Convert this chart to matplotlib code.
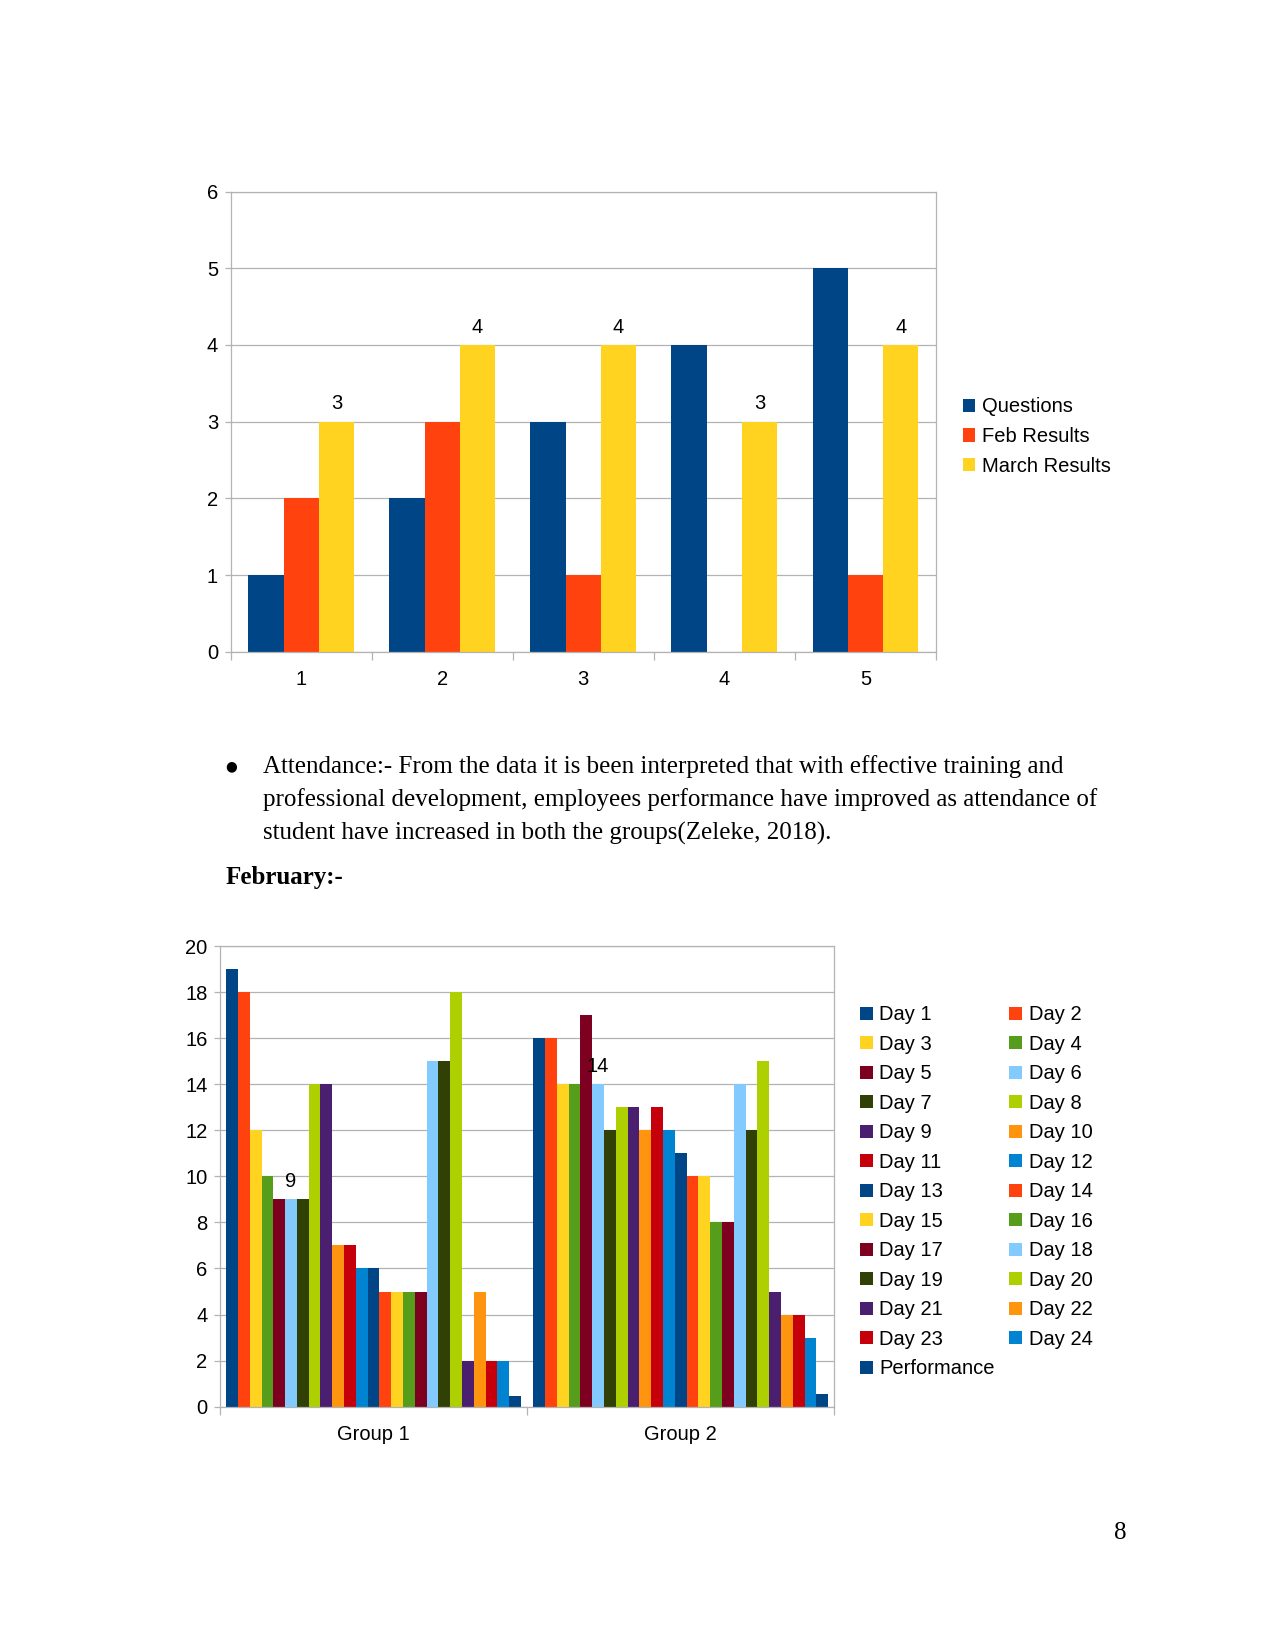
import matplotlib
matplotlib.use("Agg")
import matplotlib.pyplot as plt
import numpy as np

# ---------------- data ----------------
top_categories = ["1", "2", "3", "4", "5"]
questions = [1, 2, 3, 4, 5]
feb_results = [2, 3, 1, 0, 1]
march_results = [3, 4, 4, 3, 4]
top_series_names = ["Questions", "Feb Results", "March Results"]

groups = ["Group 1", "Group 2"]
day_names = [f"Day {i}" for i in range(1, 25)] + ["Performance"]
group1_values = [19, 18, 12, 10, 9, 9, 9, 14, 14, 7, 7, 6, 6, 5, 5, 5, 5, 15, 15, 18, 2, 5, 2, 2, 0.45]
group2_values = [16, 16, 14, 14, 17, 14, 12, 13, 13, 12, 13, 12, 11, 10, 10, 8, 8, 14, 12, 15, 5, 4, 4, 3, 0.55]

body_lines = [
    "Attendance:- From the data it is been interpreted that with effective training and",
    "professional development, employees performance have improved as attendance of",
    "student have increased in both the groups(Zeleke, 2018).",
]
heading = "February:-"
page_number = "8"

# ---------------- style ----------------
palette = ["#004586", "#ff420e", "#ffd320", "#579d1c", "#7e0021", "#83caff",
           "#314004", "#aecf00", "#4b1f6f", "#ff950e", "#c5000b", "#0084d1"]
grid_c = "#b3b3b3"
SANS = ["Liberation Sans", "DejaVu Sans"]
SERIF = ["Liberation Serif", "DejaVu Serif"]
FS = 9.7

W, H = 1275, 1651
fig = plt.figure(figsize=(W / 150, H / 150), dpi=150)

def style_axes(ax):
    ax.set_axisbelow(True)
    ax.yaxis.grid(True, color=grid_c, linewidth=0.6)
    for s in ax.spines.values():
        s.set_color(grid_c)
        s.set_linewidth(0.6)
    ax.tick_params(axis="y", which="major", length=3, width=0.6, color=grid_c,
                   pad=3, labelsize=FS, labelcolor="black")
    for lab in ax.get_yticklabels():
        lab.set_fontfamily(SANS)

legend_kw = dict(loc="upper left", frameon=False, borderpad=0, borderaxespad=0,
                 handlelength=0.63, handleheight=0.63, handletextpad=0.33,
                 labelspacing=0.52, prop={"family": SANS, "size": FS})

# ---------------- top chart ----------------
ax1 = fig.add_axes([230.6 / W, 1 - 651.7 / H, (936 - 230.6) / W, (651.7 - 191.6) / H])
x = np.arange(len(top_categories))
bw = 0.25
b_q = ax1.bar(x - bw, questions, bw, color=palette[0], label=top_series_names[0])
b_f = ax1.bar(x, feb_results, bw, color=palette[1], label=top_series_names[1])
b_m = ax1.bar(x + bw, march_results, bw, color=palette[2], label=top_series_names[2])
ax1.bar_label(b_m, labels=[str(v) for v in march_results], padding=4,
              fontsize=FS, fontfamily=SANS)
ax1.set_xlim(-0.5, len(top_categories) - 0.5)
ax1.set_ylim(0, 6)
ax1.set_yticks(range(0, 7))
ax1.set_xticks(np.arange(-0.5, len(top_categories), 1.0))
ax1.set_xticklabels([])
ax1.tick_params(axis="x", which="major", length=4, width=0.6, color=grid_c)
ax1.set_xticks(x, minor=True)
ax1.set_xticklabels(top_categories, minor=True, fontsize=FS, fontfamily=SANS)
ax1.tick_params(axis="x", which="minor", length=0, pad=9)
style_axes(ax1)

fig.legend(handles=[b_q, b_f, b_m], labels=top_series_names,
           bbox_to_anchor=(962.7 / W, 1 - 397.5 / H), **legend_kw)

# ---------------- text ----------------
fig.text(230.7 / W, 1 - 766 / H, "●", fontsize=6.5, fontfamily=["DejaVu Sans"],
         ha="center", va="center")
for i, line in enumerate(body_lines):
    fig.text(263.3 / W, 1 - (773.3 + 33 * i) / H, line, fontsize=12,
             fontfamily=SERIF, ha="left", va="baseline")
fig.text(226 / W, 1 - 884.3 / H, heading, fontsize=12, fontfamily=SERIF,
         fontweight="bold", ha="left", va="baseline")
fig.text(1120.7 / W, 1 - 1539 / H, page_number, fontsize=12, fontfamily=SERIF,
         ha="center", va="baseline")

# ---------------- bottom chart ----------------
ax2 = fig.add_axes([220 / W, 1 - 1406.7 / H, 614.3 / W, (1406.7 - 946) / H])
n = len(day_names)
gx = np.arange(len(groups))
w2 = 0.96 / n
handles = []
for i, name in enumerate(day_names):
    vals = [group1_values[i], group2_values[i]]
    b = ax2.bar(gx + (i - (n - 1) / 2) * w2, vals, w2,
                color=palette[i % len(palette)], label=name)
    handles.append(b)
    if name == "Day 6":
        ax2.bar_label(b, labels=[str(v) for v in vals], padding=4,
                      fontsize=FS, fontfamily=SANS)
ax2.set_xlim(-0.5, len(groups) - 0.5)
ax2.set_ylim(0, 20)
ax2.set_yticks(range(0, 21, 2))
ax2.set_xticks(np.arange(-0.5, len(groups), 1.0))
ax2.set_xticklabels([])
ax2.tick_params(axis="x", which="major", length=4, width=0.6, color=grid_c)
ax2.set_xticks(gx, minor=True)
ax2.set_xticklabels(groups, minor=True, fontsize=FS, fontfamily=SANS)
ax2.tick_params(axis="x", which="minor", length=0, pad=9)
style_axes(ax2)

# row-wise legend order (Day 1, Day 2 in first row)
order = list(range(0, 24, 2)) + [24] + list(range(1, 24, 2))
fig.legend(handles=[handles[k] for k in order], labels=[day_names[k] for k in order],
           ncol=2, columnspacing=0.71,
           bbox_to_anchor=(860 / W, 1 - 1005.3 / H), **legend_kw)

fig.savefig("out.png", dpi=150, facecolor="white")
